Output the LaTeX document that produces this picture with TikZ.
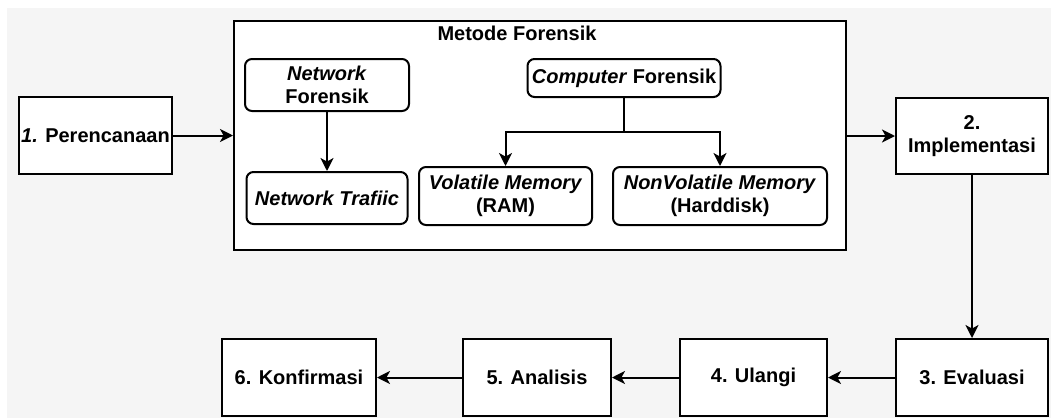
\documentclass[tikz,border=0pt]{standalone}
\usepackage{fontspec}
\setmainfont{Liberation Sans}
\usetikzlibrary{arrows.meta,positioning}

\begin{document}
\begin{tikzpicture}[x=0.5pt,y=-0.5pt,
    >={Stealth[length=6.5pt,width=6.5pt,inset=1.8pt]},
    every node/.style={font=\bfseries\fontsize{10}{11.5}\selectfont, align=center, inner sep=0pt},
    stepbox/.style={draw=black, fill=white, line width=1pt},
    softbox/.style={stepbox, rounded corners=3.5pt},
    link/.style={->, black, line width=1pt}]
  \useasboundingbox (0,0) rectangle (1051,418);
  \fill[black!4] (7,8) rectangle (1051,418);
  % metode forensik
  \node[stepbox, minimum width=306pt, minimum height=114.5pt] (metode) at (540,135.5) {};
  \node (judul) at (517,33) {Metode Forensik};
  \node[softbox, minimum width=82pt, minimum height=26pt] (netfor) at (327,85) {\textit{Network}\\Forensik};
  \node[softbox, minimum width=80.5pt, minimum height=26pt] (netraf) at (327,198) {\textit{Network Trafiic}};
  \node[softbox, minimum width=96.5pt, minimum height=19pt] (compfor) at (624,78) {\textit{Computer} Forensik};
  \node[softbox, minimum width=86.5pt, minimum height=29pt] (volatile) at (505.5,196) {\textit{Volatile Memory}\\(RAM)};
  \node[softbox, minimum width=107pt, minimum height=29pt] (nonvol) at (720,196) {\textit{NonVolatile Memory}\\(Harddisk)};
  \coordinate (cabang) at (624,132);
  \draw[link] (netfor) -- (netraf);
  \draw[line width=1pt] (compfor) -- (cabang);
  \draw[link] (cabang) -| (volatile);
  \draw[link] (cabang) -| (nonvol);
  % tahapan
  \node[stepbox, minimum width=76.5pt, minimum height=38.5pt] (rencana) at (95.5,135.5) {\textit{1.} Perencanaan};
  \node[stepbox, minimum width=76pt, minimum height=38pt] (implementasi) at (972,136) {2.\\Implementasi};
  \node[stepbox, minimum width=76pt, minimum height=38.5pt] (evaluasi) at (972,377.5) {3. Evaluasi};
  \node[stepbox, minimum width=73.5pt, minimum height=38.5pt] (ulangi) at (753.5,377.5) {4. Ulangi};
  \node[stepbox, minimum width=74pt, minimum height=38.5pt] (analisis) at (537,377.5) {5. Analisis};
  \node[stepbox, minimum width=77pt, minimum height=38.5pt] (konfirmasi) at (299,377.5) {6. Konfirmasi};
  \draw[link] (rencana) -- (metode);
  \draw[link] (metode.east |- implementasi.west) -- (implementasi.west);
  \draw[link] (implementasi) -- (evaluasi);
  \draw[link] (evaluasi) -- (ulangi);
  \draw[link] (ulangi) -- (analisis);
  \draw[link] (analisis) -- (konfirmasi);
\end{tikzpicture}
\end{document}
